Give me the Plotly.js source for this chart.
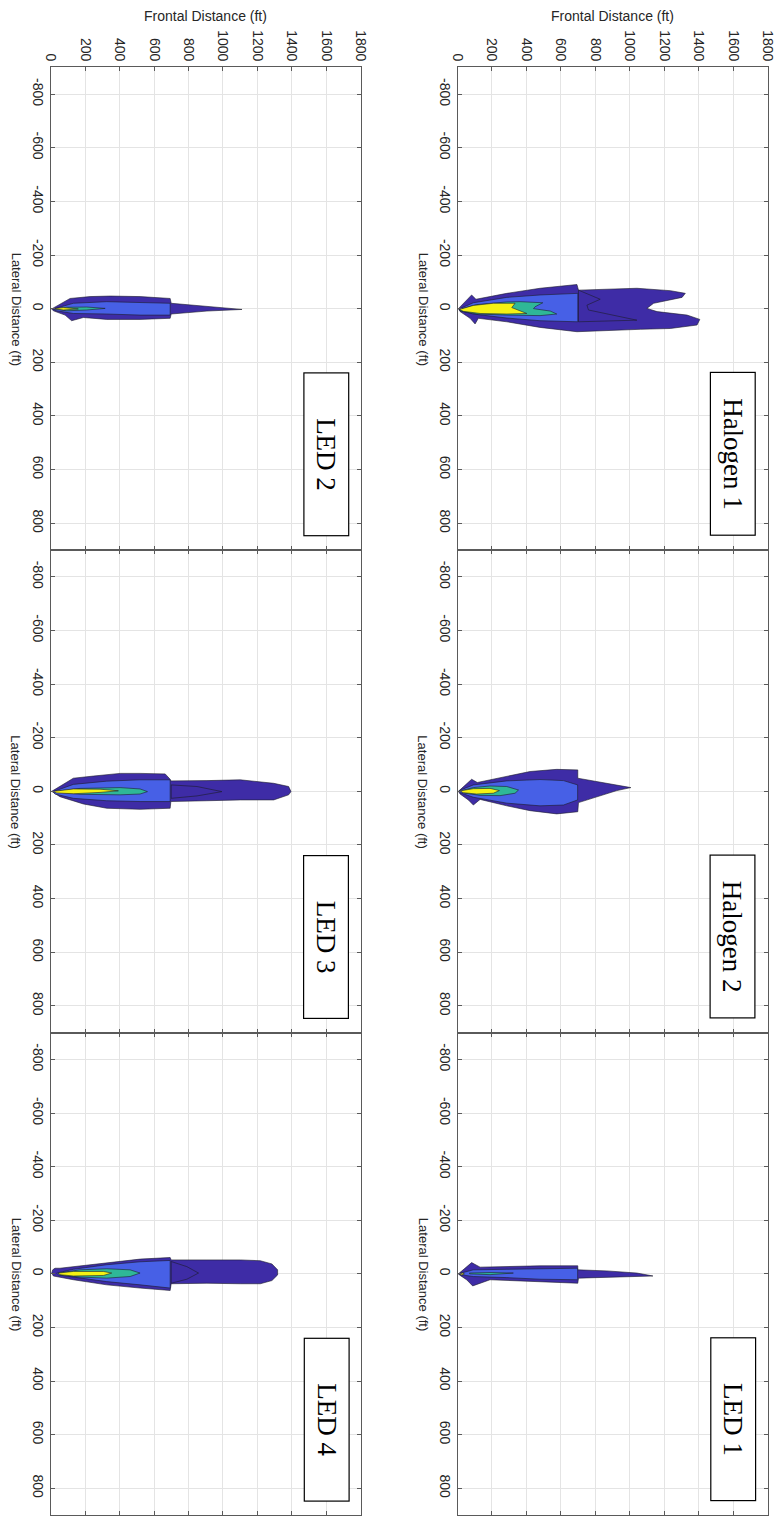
<!DOCTYPE html>
<html><head><meta charset="utf-8">
<script src="https://cdn.plot.ly/plotly-3.0.1.min.js"></script>
<style>html,body{margin:0;padding:0;background:#fff}#chart{width:775px;height:1522px}</style>
</head><body><div id="chart"></div><script>
// ---- data (frontal distance ft, lateral distance ft) ----
const panelNames = ['Halogen 1','Halogen 2','LED 1','LED 2','LED 3','LED 4'];
const frontalTicks = [0,200,400,600,800,1000,1200,1400,1600,1800];
const frontalTickText = ['0','200','400','600','800','1000','1200','1400','1600','1800'];
const lateralTicks = [-800,-600,-400,-200,0,200,400,600,800];
const lateralTickText = ['-800','-600','-400','-200','0','200','400','600','800'];

// Halogen 1
const H1_outer_f = [5,82,107,286,479,693,702,867,1041,1235,1322,1303,1138,1099,1158,1332,1406,1390,1235,1061,702,693,479,286,121,102,73,15];
const H1_outer_l = [0,-51,-35,-57,-76,-90,-69,-72,-76,-67,-57,-42,-20,-1,11,24,40,61,74,77,84,86,70,49,36,57,36,11];
const H1_far_f = [702,828,751,760,1041,702];
const H1_far_l = [-69,-35,-13,5,43,49];
const H1_mid_f = [10,92,286,479,698,698,479,286,92,15];
const H1_mid_l = [1,-22,-42,-51,-57,49,45,35,20,8];
const H1_green_f = [12,111,286,363,495,450,441,538,576,479,286,111,18];
const H1_green_l = [3,-15,-25,-26,-22,-7,0,9,20,26,24,20,9];
const H1_yellow_f = [11,92,208,334,315,383,402,286,131,34];
const H1_yellow_l = [3,-12,-20,-20,-4,11,18,20,18,10];

// Halogen 2
const H2_outer_f = [5,82,115,286,421,576,698,698,809,925,1006,925,809,702,698,576,421,286,131,92,63,15];
const H2_outer_l = [0,-45,-33,-57,-74,-82,-80,-49,-36,-23,-14,-3,20,42,76,84,72,54,30,51,32,10];
const H2_mid_f = [10,92,286,479,615,697,697,615,479,286,92,15];
const H2_mid_l = [-3,-24,-39,-44,-40,-24,32,51,54,44,22,5];
const H2_green_f = [15,92,189,286,354,334,247,131,44];
const H2_green_l = [-1,-14,-20,-18,-5,7,16,15,7];
const H2_yellow_f = [10,92,189,243,208,111,34];
const H2_yellow_l = [-1,-10,-11,-3,7,10,5];

// LED 1
const L1_outer_f = [5,82,131,479,698,698,867,1041,1134,1041,867,702,698,479,189,88,53,11];
const L1_outer_l = [0,-42,-25,-30,-30,-15,-11,-3,8,10,12,16,35,29,22,45,22,4];
const L1_mid_f = [15,92,286,479,697,697,479,286,92,15];
const L1_mid_l = [-2,-15,-17,-20,-21,22,20,14,10,3];
const L1_green_f = [69,189,324,189,71];
const L1_green_l = [-3,-5,-3,3,0];
const L1_yellow_f = [8,25,40,25];
const L1_yellow_l = [0,-4,0,4];

// LED 2
const L2_outer_f = [4,111,227,344,518,693,699,907,1111,907,699,693,518,324,188,120,82,14];
const L2_outer_l = [1,-38,-45,-47,-45,-38,-20,-7,3,9,20,36,40,40,33,45,24,8];
const L2_mid_f = [14,130,324,518,693,693,518,324,130,23];
const L2_mid_l = [1,-20,-26,-23,-20,24,24,20,18,7];
const L2_green_f = [17,91,208,315,208,91];
const L2_green_l = [1,-5,-6,-1,5,8];
const L2_yellow_f = [14,72,159,72];
const L2_yellow_l = [0,-4,1,5];

// LED 3
const L3_outer_f = [4,130,247,402,518,664,693,697,907,1101,1295,1382,1396,1382,1295,1101,907,697,693,518,324,188,52,17];
const L3_outer_l = [0,-49,-57,-67,-67,-65,-45,-39,-40,-43,-30,-18,1,13,32,32,35,38,63,67,63,47,20,7];
const L3_far_f = [699,849,994,849,699];
const L3_far_l = [-24,-18,1,17,26];
const L3_mid_f = [14,130,324,518,693,693,518,324,130,23];
const L3_mid_l = [1,-26,-38,-43,-43,38,38,35,26,10];
const L3_green_f = [14,169,402,518,561,518,402,169];
const L3_green_l = [1,-11,-14,-9,1,10,13,11];
const L3_yellow_f = [14,130,285,392,285,130,33];
const L3_yellow_l = [0,-9,-8,-2,4,9,6];

// LED 4
const L4_outer_f = [10,23,52,130,324,518,693,699,907,1101,1217,1285,1318,1318,1285,1217,1101,907,699,693,518,324,130,52,14,4];
const L4_outer_l = [-15,-21,-21,-27,-42,-55,-61,-52,-52,-52,-49,-37,-15,4,25,37,37,35,37,62,53,41,22,12,8,-3];
const L4_far_f = [699,790,858,790,699];
const L4_far_l = [-46,-27,-3,20,35];
const L4_mid_f = [33,130,324,518,693,693,518,324,130,43];
const L4_mid_l = [-3,-17,-34,-45,-50,53,41,29,12,4];
const L4_green_f = [43,169,324,460,518,460,324,169,52];
const L4_green_l = [-3,-15,-19,-15,-3,10,16,12,4];
const L4_yellow_f = [43,130,305,353,305,130,52];
const L4_yellow_l = [-3,-9,-9,-3,6,8,3];

// ---- styling / layout ----
const levelColors = {outer:'#3e2ca6', far:'#3e2ca6', mid:'#4760e6', green:'#2fb797', yellow:'#f5f213'};
const panelLayers = [
  [['outer',H1_outer_f,H1_outer_l],['far',H1_far_f,H1_far_l],['mid',H1_mid_f,H1_mid_l],['green',H1_green_f,H1_green_l],['yellow',H1_yellow_f,H1_yellow_l]],
  [['outer',H2_outer_f,H2_outer_l],['mid',H2_mid_f,H2_mid_l],['green',H2_green_f,H2_green_l],['yellow',H2_yellow_f,H2_yellow_l]],
  [['outer',L1_outer_f,L1_outer_l],['mid',L1_mid_f,L1_mid_l],['green',L1_green_f,L1_green_l],['yellow',L1_yellow_f,L1_yellow_l]],
  [['outer',L2_outer_f,L2_outer_l],['mid',L2_mid_f,L2_mid_l],['green',L2_green_f,L2_green_l],['yellow',L2_yellow_f,L2_yellow_l]],
  [['outer',L3_outer_f,L3_outer_l],['far',L3_far_f,L3_far_l],['mid',L3_mid_f,L3_mid_l],['green',L3_green_f,L3_green_l],['yellow',L3_yellow_f,L3_yellow_l]],
  [['outer',L4_outer_f,L4_outer_l],['far',L4_far_f,L4_far_l],['mid',L4_mid_f,L4_mid_l],['green',L4_green_f,L4_green_l],['yellow',L4_yellow_f,L4_yellow_l]]
];
// grid position of each panel: [column, row]
const panelPos = [[1,0],[1,1],[1,2],[0,0],[0,1],[0,2]];

const W = 775, H = 1522;
const colPx = [[51,360.5],[457.5,767.7]];
const rowPx = [[67.3,550],[550,1032.7],[1032.7,1515]];
const px = v => v / W;
const py = v => 1 - v / H;

const FONT = 'Liberation Sans, Arial, sans-serif';
const traces = [];
const layout = {
  width: W, height: H, margin:{l:0,r:0,t:0,b:0},
  paper_bgcolor:'#ffffff', plot_bgcolor:'#ffffff',
  showlegend:false, font:{family:FONT, size:13, color:'#262626'},
  annotations:[]
};

panelNames.forEach((name, i) => {
  const k = i + 1;
  const [c, r] = panelPos[i];
  const xa = 'xaxis' + (k === 1 ? '' : k), ya = 'yaxis' + (k === 1 ? '' : k);
  const xr = 'x' + (k === 1 ? '' : k), yr = 'y' + (k === 1 ? '' : k);
  panelLayers[i].forEach(([lvl, f, l]) => {
    traces.push({type:'scatter', mode:'lines', x: f.concat([f[0]]), y: l.concat([l[0]]),
      xaxis: xr, yaxis: yr, fill:'toself', fillcolor: levelColors[lvl],
      line:{color:'#1c1c2a', width:0.6}, hoverinfo:'skip'});
  });
  const common = {showgrid:true, gridcolor:'#e4e4e4', gridwidth:1, zeroline:false,
    showline:true, linecolor:'#5a5a5a', linewidth:1, mirror:'ticks', ticks:'inside',
    ticklen:4, tickcolor:'#5a5a5a', tickangle:90, fixedrange:true,
    ticklabeloverflow:'allow', tickmode:'array',
    tickfont:{family:FONT, size:14, color:'#262626'}};
  layout[xa] = Object.assign({}, common, {
    domain:[px(colPx[c][0]), px(colPx[c][1])], range:[0,1800],
    tickvals: frontalTicks, ticktext: frontalTickText,
    side:'top', showticklabels: r === 0, anchor: yr});
  layout[ya] = Object.assign({}, common, {
    domain:[py(rowPx[r][1]), py(rowPx[r][0])], range:[900,-900],
    tickvals: lateralTicks, ticktext: lateralTickText,
    anchor: xr});
  const midY = (rowPx[r][0] + rowPx[r][1]) / 2;
  // lateral axis title (rotated like the reference)
  layout.annotations.push({xref:'paper', yref:'paper', x: px(c === 0 ? 16 : 423), y: py(midY),
    text:'Lateral Distance (ft)', showarrow:false, textangle:90,
    font:{family:FONT, size:13, color:'#262626'}, xanchor:'center', yanchor:'middle'});
  // name box
  layout.annotations.push({xref:'paper', yref:'paper', x: px(colPx[c][0] + 275.5), y: py(rowPx[r][0] + 386.5),
    text: name, showarrow:false, textangle:90, width:160, height:42,
    bordercolor:'#000', borderwidth:1.2, borderpad:1, bgcolor:'#ffffff',
    font:{family:'Liberation Serif, Times New Roman, serif', size:27, color:'#000'},
    xanchor:'center', yanchor:'middle'});
});
// frontal axis titles
[0,1].forEach(c => {
  layout.annotations.push({xref:'paper', yref:'paper', x: px((colPx[c][0]+colPx[c][1])/2), y: py(16),
    text:'Frontal Distance (ft)', showarrow:false,
    font:{family:FONT, size:14, color:'#262626'}, xanchor:'center', yanchor:'middle'});
});

Plotly.newPlot('chart', traces, layout, {staticPlot:true, displayModeBar:false});
</script></body></html>
